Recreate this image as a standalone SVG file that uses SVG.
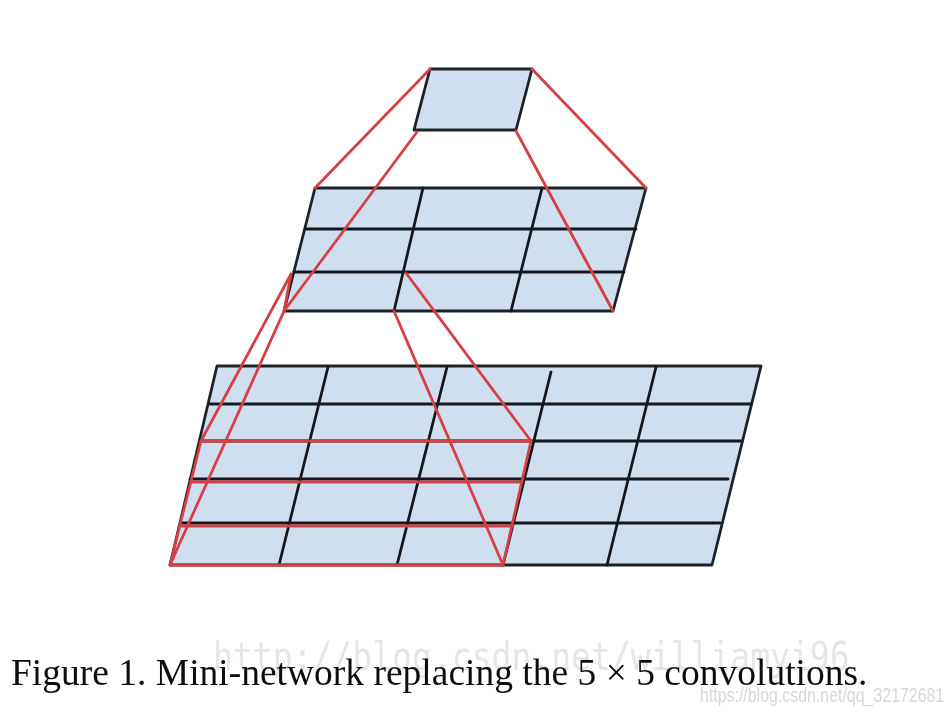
<svg xmlns="http://www.w3.org/2000/svg" width="950" height="712" viewBox="0 0 950 712">
  <defs>
    <filter id="soft" x="-5%" y="-5%" width="110%" height="110%"><feGaussianBlur stdDeviation="0.75"/></filter>
  </defs>
  <style>
    .cell { fill: #d0dff0; stroke: #1f2226; stroke-width: 2.8; stroke-linejoin: round; }
    .grid { fill: none; stroke: #15181c; stroke-width: 2.8; stroke-linecap: round; }
    .red { fill: none; stroke: #d63f42; stroke-width: 2.8; stroke-linecap: round; stroke-linejoin: round; }
    .caption { font-family: "Liberation Serif", "Times New Roman", serif; font-size: 38px; fill: #111111; }
    .wm1 { font-family: "DejaVu Sans Mono", "Liberation Mono", monospace; font-size: 36px; fill: #e6e6e6; }
    .wm2 { font-family: "Liberation Sans", Arial, sans-serif; font-size: 18px; fill: #d8d8d8; }
  </style>
  <rect width="950" height="712" fill="#ffffff"/>
  <g filter="url(#soft)">
    <g id="node-top">
      <polygon class="cell" points="430,69 532,69 516,130 414,130"/>
    </g>
    <g id="node-middle">
      <polygon class="cell" points="315,188 646,188 613,311 284,311"/>
      <path class="grid" d="M305,229H636M294,272H624M423,188L394,311M542,188L511,311"/>
    </g>
    <g id="node-bottom">
      <polygon class="cell" points="217,366 761,366 712,565 170,565"/>
      <path class="grid" d="M210,404H751M201,441H741M190,479H728M181,523H720M328,367L279,565M447,367L397,565M551,372L503,565M656,367L607,565"/>
    </g>
    <g id="connectors">
      <path class="red" d="M430,69L315,188M532,69L646,188M417,132L284,311L170,565M516,131L613,311M291,274L284,311M291,274L201,441M406,273L531,441M394,311L503,565"/>
      <path class="red" d="M201,441H531L503,565H170Z"/>
      <path class="red" d="M192,482H522M182,526H513"/>
    </g>
    <g id="caption">
      <text class="wm1" transform="translate(213,670) scale(0.918,1.1)">http://blog.csdn.net/williamyi96</text>
      <text class="caption" transform="translate(11,685) scale(0.987,1)">Figure 1. Mini-network replacing the 5 × 5 convolutions.</text>
      <text class="wm2" transform="translate(700,702) scale(0.885,1.1)">https://blog.csdn.net/qq_32172681</text>
    </g>
  </g>
</svg>
